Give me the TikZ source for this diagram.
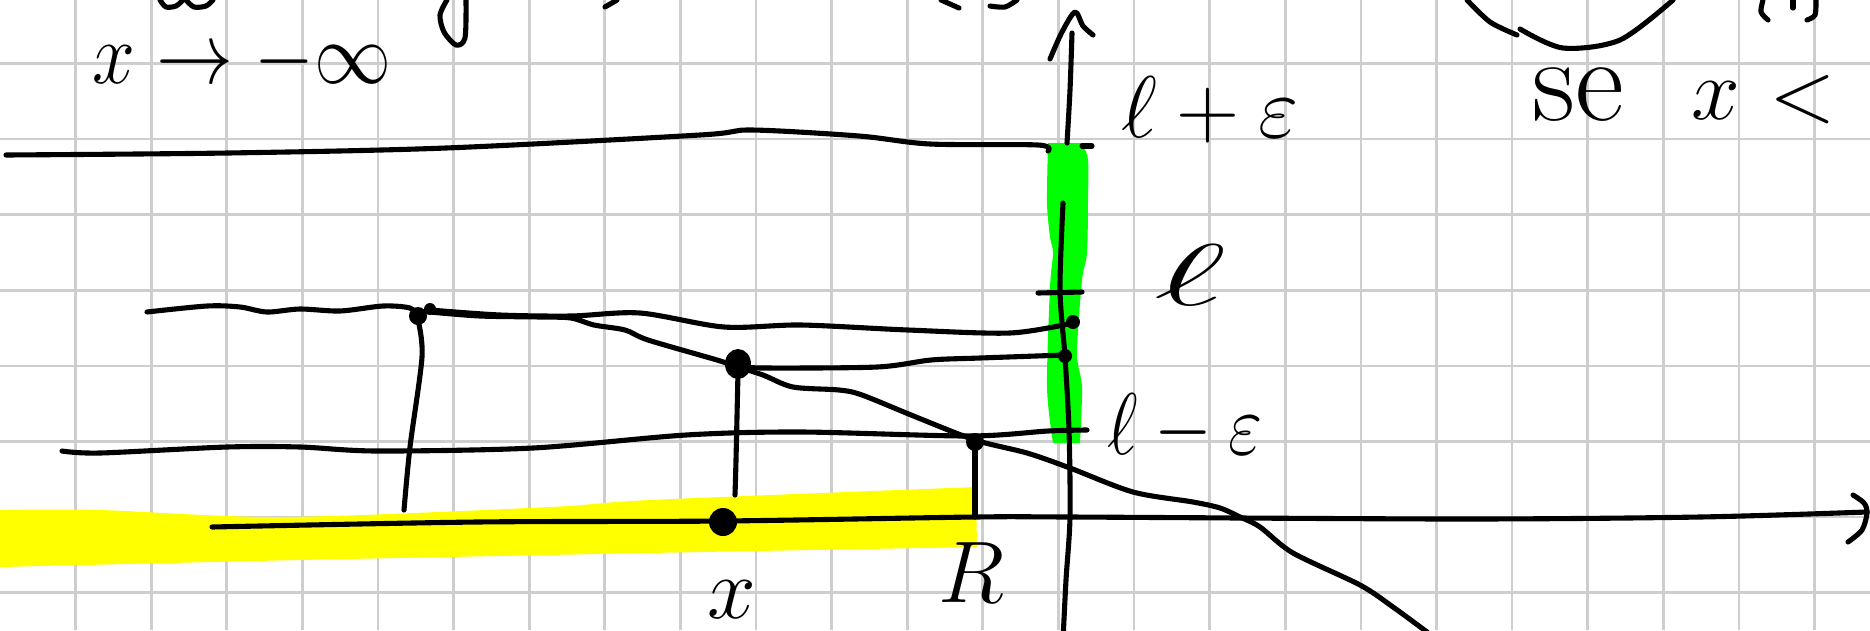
\documentclass[tikz,border=0pt]{standalone}
\usepackage{amsmath,amssymb}
\definecolor{gridgray}{RGB}{206,206,206}
\definecolor{hlgreen}{RGB}{0,255,0}
\definecolor{hlyellow}{RGB}{255,255,0}
\begin{document}
\begin{tikzpicture}[x=0.01cm,y=-0.01cm,
  gridline/.style={draw=gridgray,line width=0.75pt},
  ink/.style={draw=black,line width=1.45pt,line cap=round,line join=round},
  lab/.style={inner sep=0pt,font=\fontsize{26}{30}\selectfont},
  dotmark/.style={fill=black}]
\useasboundingbox (0,0) rectangle (1870,630);
\fill[white] (0,0) rectangle (1870,630);
% grid paper
\foreach \k in {1,...,24} \draw[gridline] (75.6*\k,0) -- (75.6*\k,630);
\foreach \j in {0,...,7} \draw[gridline] (0,63.5+75.6*\j) -- (1870,63.5+75.6*\j);
% highlights
\fill[hlyellow] plot[smooth] coordinates {(0,510) (100,510) (283,517) (550,507) (650,500) (976,487)}
  -- (977,547) -- plot[smooth] coordinates {(976,547) (650,553) (300,560) (0,567)} -- cycle;
\fill[hlgreen] plot[smooth] coordinates {(1048,143) (1047,203) (1050,237) (1053,253) (1050,287) (1047,387) (1053,443)}
  -- plot[smooth] coordinates {(1080,443) (1082,387) (1077,353) (1082,280) (1087,253) (1088,200) (1088,160) (1082,143)} -- cycle;
% named points
\coordinate (d1) at (418,316);
\coordinate (d1b) at (430,309);
\coordinate (d2) at (738,364);
\coordinate (d3) at (975,442);
\coordinate (dx) at (723,522);
\coordinate (dy1) at (1073,322);
\coordinate (dy2) at (1065,356);
\coordinate (ytip) at (1075,12);
\coordinate (xtip) at (1867,513);
% axes
\draw[ink] plot[smooth] coordinates {(212,527) (477,522) (724,521) (975,517) (1070,517) (1460,519) (1700,517) (1867,512)};
\draw[ink] plot[smooth] coordinates {(1853,495) (1864,503) (1867,513) (1862,530) (1848,542)};
\draw[ink] plot[smooth] coordinates {(1072,33) (1070,90) (1067,143)};
\draw[ink] plot[smooth] coordinates {(1063,203) (1060,290) (1065,357) (1069,430) (1070,517) (1066,580) (1063,640)};
\draw[ink] plot[smooth] coordinates {(1050,59) (1062,32) (1075,12) (1083,26) (1093,35)};
% level lines
\draw[ink] plot[smooth] coordinates {(6,155) (228,153) (446,148) (700,135) (751,130) (859,136) (930,144) (1038,145) (1048,151)};
\draw[ink] (1082,146) -- (1092,146);
\draw[ink] plot[smooth] coordinates {(62,451) (100,453) (227,447) (300,447) (377,451) (533,448) (686,435) (801,432) (969,436) (1048,431) (1087,430)};
\draw[ink] (1038,293) -- (1082,292);
\draw[ink] plot[smooth] coordinates {(430,310) (500,315) (571,316) (640,313) (724,327) (801,325) (908,330) (1010,333) (1073,323)};
\draw[ink] plot[smooth] coordinates {(743,366) (763,368) (877,367) (931,360) (980,358) (1065,355)};
% graph of f
\draw[ink] plot[smooth] coordinates {(147,312) (207,306) (240,307) (267,312) (300,309) (340,311) (383,306) (410,308) (418,316)};
\draw[ink] plot[smooth] coordinates {(430,312) (480,316) (540,317) (571,318) (594,325) (625,330) (648,340) (717,360) (738,367)
  (763,375) (793,387) (839,390) (862,395) (916,417) (975,440) (1027,453) (1070,468) (1133,492) (1193,502) (1220,508) (1240,517)
  (1260,527) (1293,553) (1360,585) (1393,607) (1427,632)};
% verticals
\draw[ink] plot[smooth] coordinates {(418,320) (422,357) (410,447) (404,510)};
\draw[ink] plot[smooth] coordinates {(738,372) (736,460) (735,495)};
\draw[ink] (975,442) -- (975,517);
% dots
\fill[dotmark] (d1) circle[radius=9];
\fill[dotmark] (d1b) circle[radius=6];
\fill[dotmark] (d2) ellipse[x radius=13,y radius=15];
\fill[dotmark] (d3) circle[radius=9];
\fill[dotmark] (dx) circle[radius=14];
\fill[dotmark] (dy1) circle[radius=7];
\fill[dotmark] (dy2) circle[radius=7];
% labels
\node[lab] (tlim) at (242,62) {\scalebox{0.88}[1]{$x \to -\infty$}};
\node[lab] (tlpe) at (1210,110) {$\ell+\varepsilon$};
\node[lab,font=\fontsize{28}{30}\selectfont] (tl) at (1190,275) {\scalebox{2}[1]{$\ell$}};
\node[lab] (tlme) at (1185,428) {\scalebox{0.85}[1]{$\ell-\varepsilon$}};
\node[lab] (tx) at (732,600) {$x$};
\node[lab] (tR) at (971,573) {$R$};
\node[lab,font=\fontsize{34}{36}\selectfont] (tse) at (1578,95) {se};
\node[lab] (tsx) at (1716,101) {$x$};
\node[lab] (tlt) at (1803,100) {$<$};
% cut-off handwriting at the top edge
\draw[ink] plot[smooth] coordinates {(160,0) (166,7) (176,6) (183,0)};
\draw[ink] plot[smooth] coordinates {(186,0) (194,7) (206,6) (213,0)};
\draw[ink] plot[smooth] coordinates {(466,0) (465,38) (456,45) (444,32) (440,15) (447,0)};
\draw[ink] (617,0) -- (605,7);
\draw[ink] (941,0) -- (959,8);
\draw[ink] plot[smooth] coordinates {(1017,0) (1005,7) (990,6)};
\draw[ink] plot[smooth] coordinates {(1467,0) (1490,22) (1517,35)};
\draw[ink] plot[smooth] coordinates {(1520,29) (1563,48) (1620,40) (1673,0)};
\draw[ink] plot[smooth] coordinates {(1763,0) (1761,12) (1768,20)};
\draw[ink] (1793,0) -- (1793,8);
\draw[ink] plot[smooth] coordinates {(1816,0) (1815,15) (1807,20)};
\end{tikzpicture}
\end{document}
